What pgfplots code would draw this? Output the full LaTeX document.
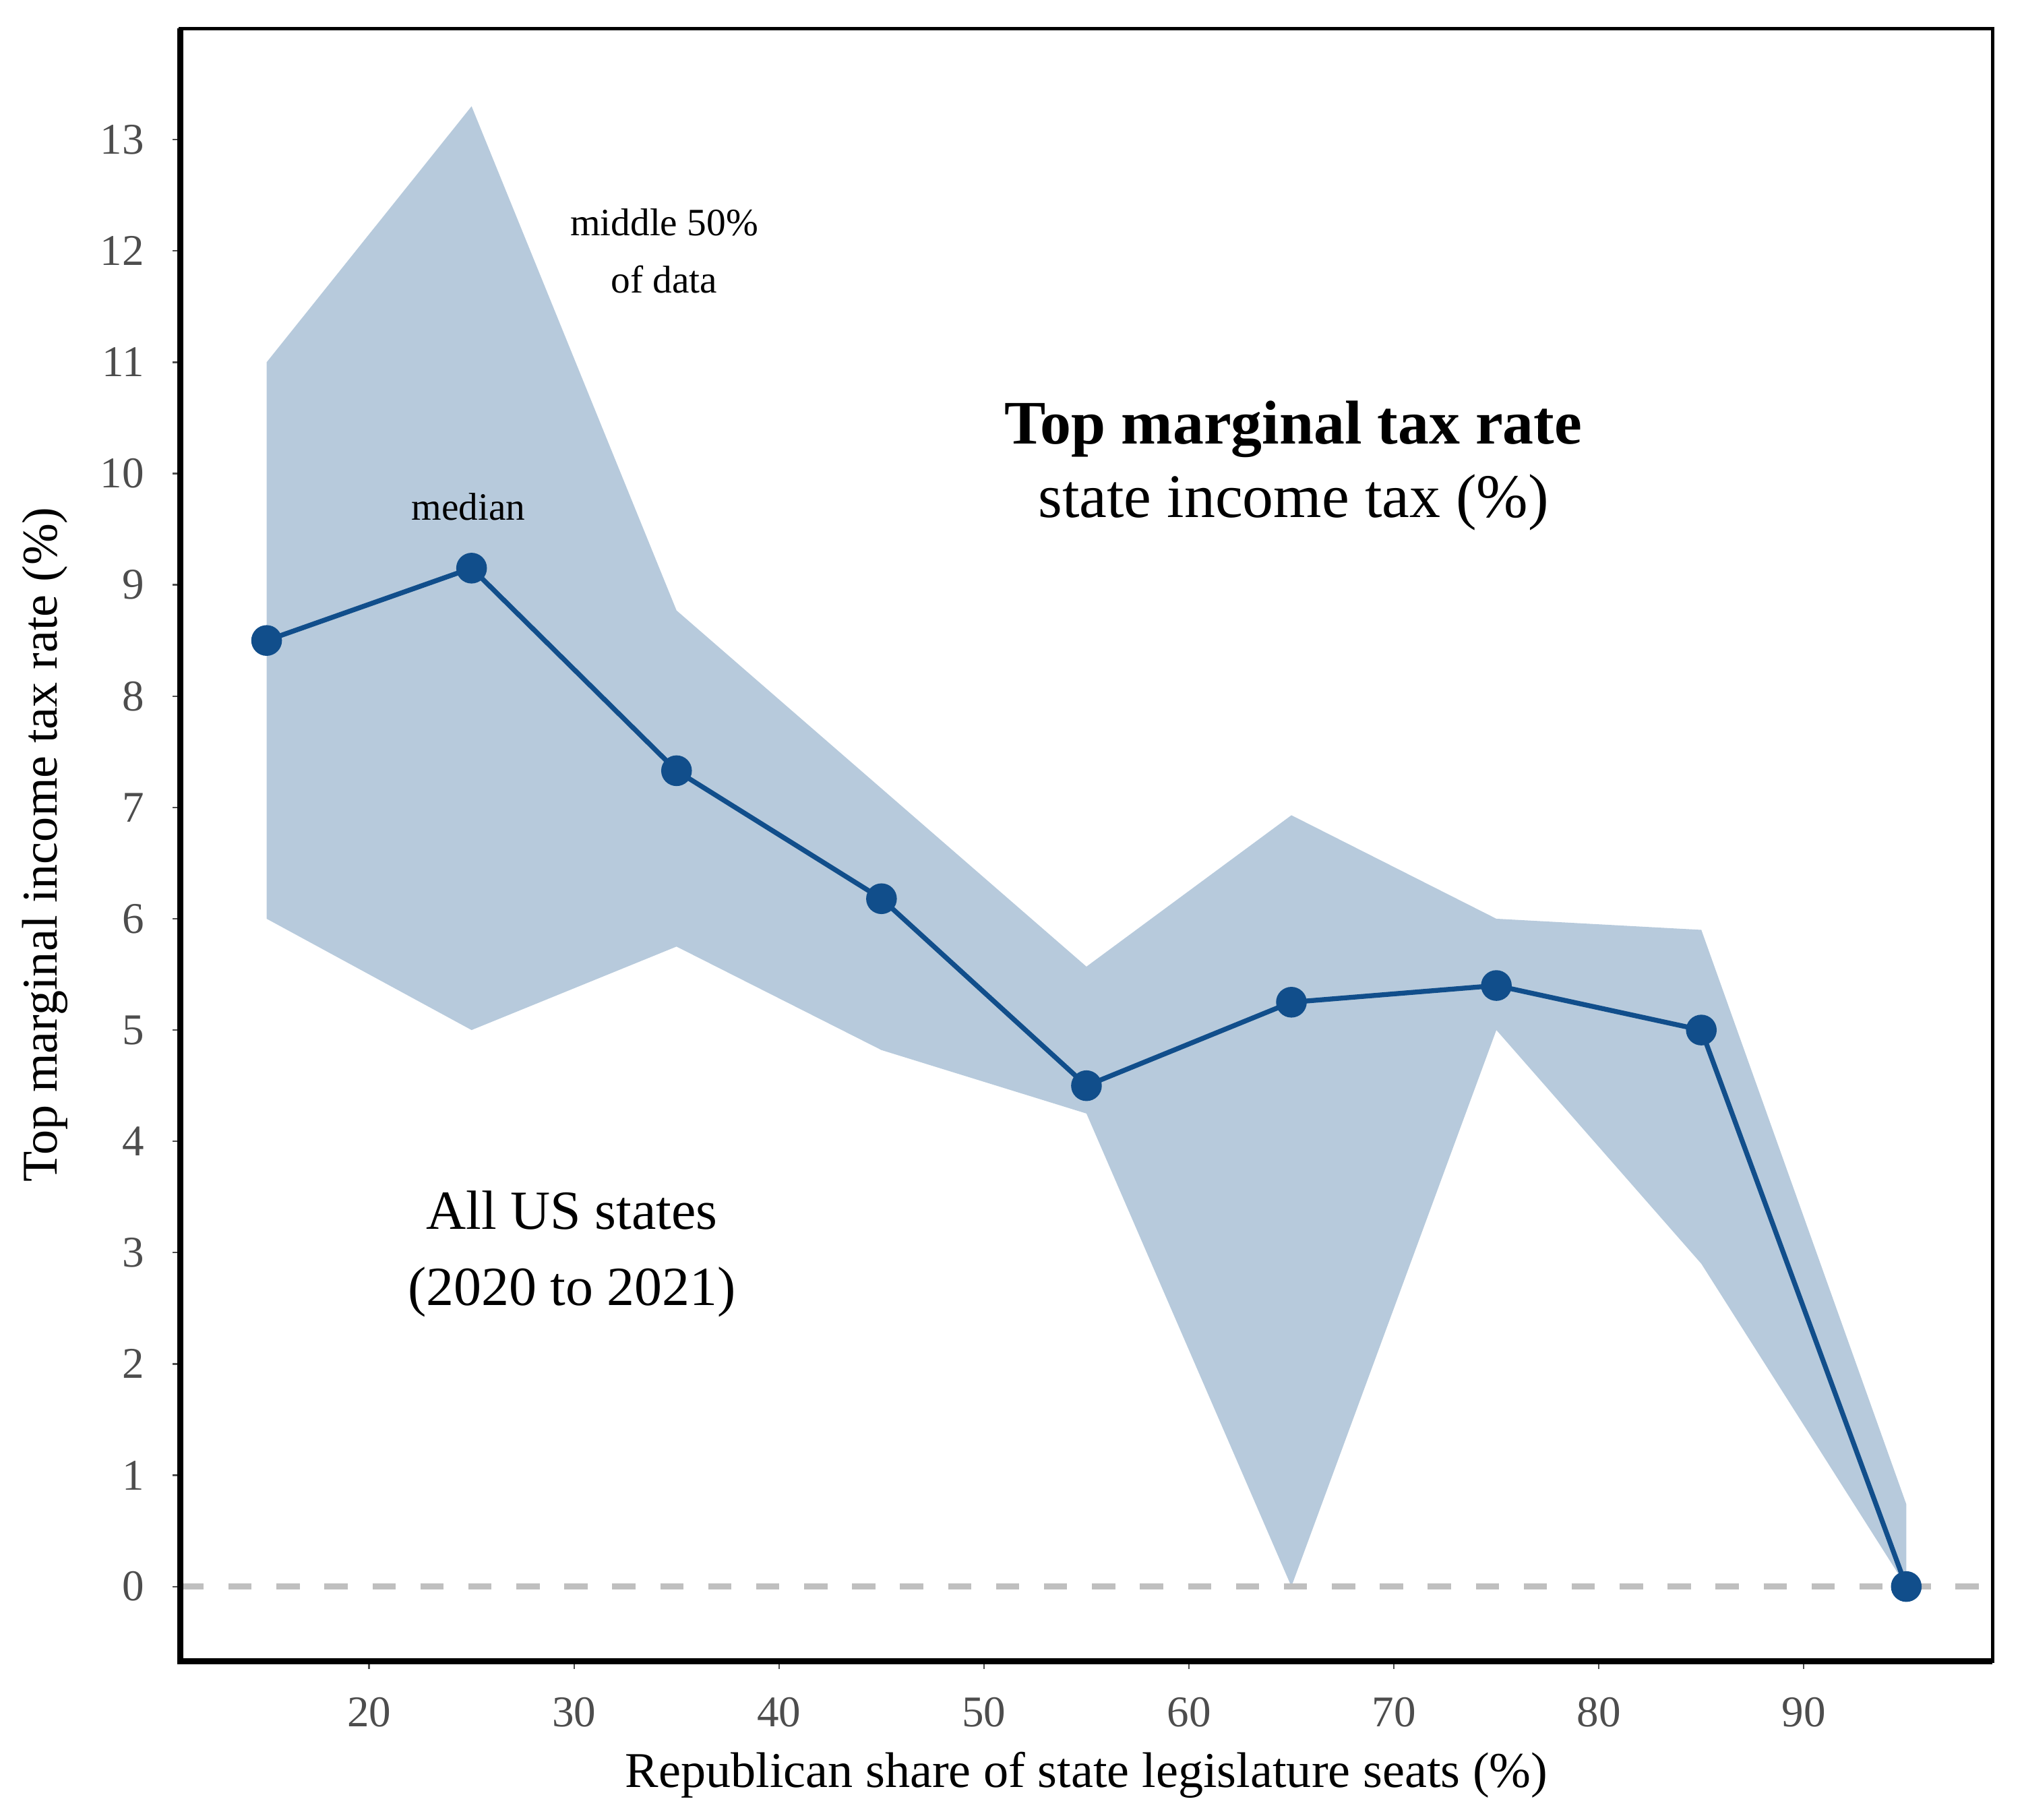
\documentclass[border=0pt]{standalone}
\usepackage{fontspec}
\setmainfont{Liberation Serif}
\usepackage{pgfplots}
\pgfplotsset{compat=1.18}
\definecolor{lineblue}{HTML}{114E8B}
\definecolor{bandblue}{HTML}{B7CADC}
\definecolor{tickgray}{HTML}{4D4D4D}
\definecolor{zerogray}{HTML}{BFBFBF}
\begin{document}
\begin{tikzpicture}
\begin{axis}[
  scale only axis,
  width=351.25pt, height=316.5pt,
  xmin=10.8, xmax=99.2, ymin=-0.67, ymax=14.0,
  xtick={20,30,...,90}, ytick={0,1,...,13},
  tick align=outside, major tick length=1.5pt,
  tick style={color=tickgray, line width=0.3pt},
  xtick pos=bottom, ytick pos=left,
  axis line style={line width=0.65pt},
  /pgf/number format/assume math mode=true,
  ticklabel style={font=\fontsize{8.5}{10}\selectfont, text=tickgray},
  xticklabel style={yshift=-2pt},
  yticklabel style={xshift=-2pt},
  label style={font=\fontsize{9.7}{11}\selectfont},
  xlabel={Republican share of state legislature seats (\%)},
  ylabel={Top marginal income tax rate (\%)},
  xlabel style={yshift=2pt},
  ylabel style={yshift=-0.5pt},
  clip=false,
]
\addplot[draw=none, fill=bandblue] coordinates {
  (15,11.0) (25,13.3) (35,8.77) (45,7.17) (55,5.57) (65,6.93) (75,6.0) (85,5.9) (95,0.74)
  (95,0.0) (85,2.9) (75,5.0) (65,0.0) (55,4.25) (45,4.82) (35,5.75) (25,5.0) (15,6.0)
} -- cycle;
\addplot[zerogray, line width=1.1pt, dash pattern=on 4.5pt off 4.8pt] coordinates {(10.8,0) (99.2,0)};
\addplot[lineblue, line width=0.95pt, mark=*, mark size=2.5pt, mark options={solid, fill=lineblue, draw=lineblue}] coordinates {
  (15,8.5) (25,9.15) (35,7.33) (45,6.18) (55,4.5) (65,5.25) (75,5.4) (85,5.0) (95,0.0)
};
\node[align=center, font=\fontsize{7.5}{11}\selectfont] at (axis cs:34.4,12.0) {middle 50\%\\of data};
\node[font=\fontsize{7.5}{9}\selectfont] at (axis cs:24.85,9.70) {median};
\node[align=center, font=\fontsize{12}{14.25}\selectfont] at (axis cs:65.1,10.07) {\textbf{Top marginal tax rate}\\state income tax (\%)};
\node[align=center, font=\fontsize{10.7}{14.75}\selectfont] at (axis cs:29.9,2.99) {All US states\\(2020 to 2021)};
\draw[black, line width=1.18pt] (rel axis cs:0,1) -- (rel axis cs:0,0) -- (rel axis cs:1,0);
\end{axis}
\path (current axis.south west) ++(-35pt,-30.75pt) (current axis.north east) ++(5.75pt,5.5pt);
\end{tikzpicture}
\end{document}
